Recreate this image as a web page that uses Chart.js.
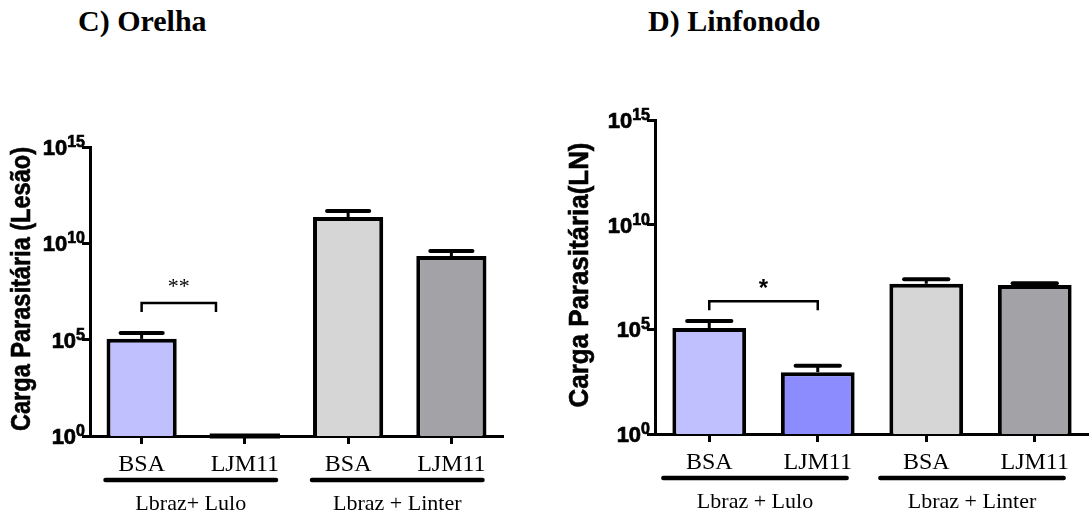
<!DOCTYPE html>
<html>
<head>
<meta charset="utf-8">
<script src="https://cdn.jsdelivr.net/npm/chart.js@4.4.0/dist/chart.umd.min.js"></script>
<style>
  html, body { margin: 0; padding: 0; background: #fff; }
  body { width: 1089px; height: 516px; position: relative; overflow: hidden; }
  canvas { position: absolute; top: 0; }
  #earChart { left: 0; }
  #nodeChart { left: 545px; }
  .panel-title {
    position: absolute;
    font: bold 30px "Liberation Serif", "Times New Roman", serif;
    line-height: 30px;
    color: #000;
    white-space: nowrap;
  }
</style>
</head>
<body>
<div class="panel-title" style="left:78px; top:6px;">C) Orelha</div>
<div class="panel-title" style="left:648px; top:6px;">D) Linfonodo</div>
<canvas id="earChart" width="545" height="516"></canvas>
<canvas id="nodeChart" width="544" height="516"></canvas>
<script>
const categories = ["BSA", "LJM11", "BSA", "LJM11"];
const earGroups = ["Lbraz+ Lulo", "Lbraz + Linter"];
const nodeGroups = ["Lbraz + Lulo", "Lbraz + Linter"];
const tickValues = [1, 1e5, 1e10, 1e15];

// parasite load, mean and mean + SEM
const earMeans = [1.1e5, 1, 2.3e11, 2.2e9];
const earErrTop = [2.2e5, 1, 4.8e11, 4.0e9];
const nodeMeans = [1.15e5, 9e2, 1.5e7, 1.3e7];
const nodeErrTop = [2.5e5, 1.8e3, 2.5e7, 1.6e7];

const barColors = ["#c0c0ff", "#8c8cff", "#d6d6d6", "#a3a2a7"];

const SANS = '"Liberation Sans", Arial, sans-serif';
const SERIF = '"Liberation Serif", "Times New Roman", serif';

const panelExtras = {
  id: "panelExtras",
  afterDatasetsDraw(chart, args, opts) {
    const ctx = chart.ctx;
    const xs = chart.scales.x;
    const ys = chart.scales.y;
    const meta = chart.getDatasetMeta(0);
    const values = chart.data.datasets[0].data;
    ctx.save();
    ctx.strokeStyle = "#000";
    ctx.fillStyle = "#000";

    // error bars: upper arm only
    meta.data.forEach((bar, i) => {
      if (values[i] <= ys.min) {
        // undetectable -> flat bar on the baseline
        ctx.lineWidth = 5;
        ctx.lineCap = "butt";
        ctx.beginPath();
        ctx.moveTo(bar.x - bar.width / 2, ys.bottom);
        ctx.lineTo(bar.x + bar.width / 2, ys.bottom);
        ctx.stroke();
        return;
      }
      const top = ys.getPixelForValue(opts.errTop[i]);
      const cap = bar.width * 0.3;
      ctx.lineWidth = 3;
      ctx.lineCap = "butt";
      ctx.beginPath();
      ctx.moveTo(bar.x, bar.y);
      ctx.lineTo(bar.x, top);
      ctx.stroke();
      ctx.lineWidth = 4;
      ctx.lineCap = "round";
      ctx.beginPath();
      ctx.moveTo(bar.x - cap, top);
      ctx.lineTo(bar.x + cap, top);
      ctx.stroke();
    });

    // y tick labels as powers of ten (slightly stroked for a heavier face)
    ctx.lineWidth = 0.7;
    ys.ticks.forEach((t) => {
      const exp = String(Math.round(Math.log10(t.value)));
      const py = ys.getPixelForValue(t.value);
      ctx.font = "bold 16px " + SANS;
      const wExp = ctx.measureText(exp).width;
      ctx.font = "bold 22px " + SANS;
      const wBase = ctx.measureText("10").width;
      const right = ys.right - 5;
      ctx.textAlign = "left";
      ctx.textBaseline = "alphabetic";
      ctx.fillText("10", right - wExp - wBase, py + 8);
      ctx.strokeText("10", right - wExp - wBase, py + 8);
      ctx.font = "bold 16px " + SANS;
      ctx.fillText(exp, right - wExp, py);
      ctx.strokeText(exp, right - wExp, py);
    });

    // y axis title
    ctx.save();
    ctx.translate(opts.titleX, opts.titleY);
    ctx.rotate(-Math.PI / 2);
    ctx.font = "bold 27px " + SANS;
    ctx.textAlign = "center";
    ctx.textBaseline = "middle";
    ctx.fillText(opts.yTitle, 0, 0, opts.titleLen);
    ctx.lineWidth = 0.6;
    ctx.strokeText(opts.yTitle, 0, 0, opts.titleLen);
    ctx.restore();

    // significance bracket
    const b = opts.bracket;
    const by = ys.getPixelForValue(b.value);
    const bx0 = xs.getPixelForValue(b.from);
    const bx1 = xs.getPixelForValue(b.to);
    ctx.lineWidth = 2.5;
    ctx.lineCap = "butt";
    ctx.beginPath();
    ctx.moveTo(bx0, by + 9);
    ctx.lineTo(bx0, by);
    ctx.lineTo(bx1, by);
    ctx.lineTo(bx1, by + 9);
    ctx.stroke();
    ctx.font = b.font;
    ctx.textAlign = "center";
    ctx.textBaseline = "middle";
    ctx.fillText(b.label, (bx0 + bx1) / 2, by - b.gap);

    // treatment groups under the category labels
    opts.groups.forEach((label, g) => {
      const first = meta.data[g * 2];
      const last = meta.data[g * 2 + 1];
      const x0 = first.x - first.width / 2 + opts.lineInset[0];
      const x1 = last.x + last.width / 2 + opts.lineInset[1];
      const ly = xs.top + 44;
      ctx.lineWidth = 4.5;
      ctx.lineCap = "round";
      ctx.beginPath();
      ctx.moveTo(x0, ly);
      ctx.lineTo(x1, ly);
      ctx.stroke();
      ctx.font = "22px " + SERIF;
      ctx.textAlign = "center";
      ctx.textBaseline = "middle";
      ctx.fillText(label, (x0 + x1) / 2, xs.top + 68);
    });
    ctx.restore();
  }
};

function buildChart(canvasId, means, extras, pad, axisW, axisH) {
  const ctx = document.getElementById(canvasId).getContext("2d");
  return new Chart(ctx, {
    type: "bar",
    data: {
      labels: categories,
      datasets: [{
        data: means,
        backgroundColor: barColors,
        borderColor: "#000",
        borderWidth: 4,
        borderSkipped: "start",
        barPercentage: 0.68,
        categoryPercentage: 1
      }]
    },
    options: {
      responsive: false,
      animation: false,
      devicePixelRatio: 1,
      layout: { padding: pad },
      plugins: {
        legend: { display: false },
        tooltip: { enabled: false },
        panelExtras: extras
      },
      scales: {
        x: {
          grid: {
            drawOnChartArea: false,
            offset: false,
            tickLength: 8,
            tickWidth: 3,
            tickColor: "#000"
          },
          border: { display: true, color: "#000", width: 3 },
          ticks: {
            color: "#000",
            font: { family: SERIF, size: 24 },
            padding: 6,
            maxRotation: 0,
            autoSkip: false
          },
          afterFit(scale) { scale.height = axisH; }
        },
        y: {
          type: "logarithmic",
          min: 1,
          max: 1e15,
          afterBuildTicks(scale) {
            scale.ticks = tickValues.map((v) => ({ value: v }));
          },
          grid: {
            drawOnChartArea: false,
            tickLength: 8,
            tickWidth: 3,
            tickColor: "#000"
          },
          border: { color: "#000", width: 3 },
          ticks: { display: false },
          afterFit(scale) { scale.width = axisW; }
        }
      }
    },
    plugins: [panelExtras]
  });
}

buildChart("earChart", earMeans, {
  errTop: earErrTop,
  yTitle: "Carga Parasitária (Lesão)",
  titleX: 23, titleY: 289, titleLen: 284,
  bracket: { from: 0, to: 0.72, value: 8e6, label: "**", font: "22px " + SERIF, gap: 16 },
  groups: earGroups,
  lineInset: [-1, -4]
}, { top: 147, right: 42, bottom: 0, left: 0 }, 90, 80);

buildChart("nodeChart", nodeMeans, {
  errTop: nodeErrTop,
  yTitle: "Carga Parasitária(LN)",
  titleX: 36, titleY: 275, titleLen: 265,
  bracket: { from: 0, to: 1, value: 2.2e6, label: "*", font: "bold 24px " + SANS, gap: 12 },
  groups: nodeGroups,
  lineInset: [-9, -8]
}, { top: 120, right: 0, bottom: 0, left: 0 }, 110, 82);
</script>
</body>
</html>
